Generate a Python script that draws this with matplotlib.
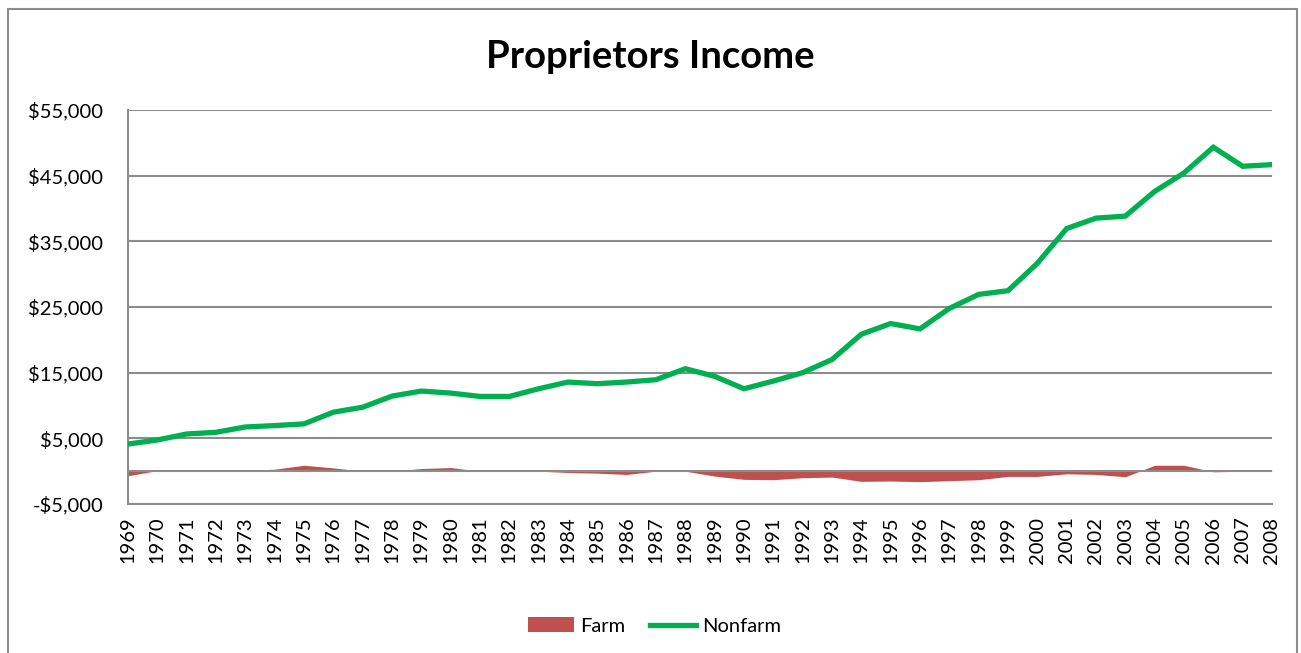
import matplotlib.pyplot as plt
from matplotlib.patches import Rectangle
from matplotlib.ticker import FuncFormatter

years = list(range(1969, 2009))
farm = [-700, 100, 0, 0, 100, 300, 900, 500, 0, 0,
        400, 550, 0, 0, 0, -200, -300, -500, 0, 0,
        -750, -1250, -1300, -1000, -900, -1550, -1500, -1600, -1450, -1300,
        -800, -800, -400, -500, -850, 900, 900, -100, 0, 50]
nonfarm = [4130, 4750, 5660, 5920, 6730, 6940, 7200, 8980, 9740, 11430,
           12200, 11890, 11380, 11380, 12550, 13570, 13320, 13570, 13930, 15600,
           14440, 12550, 13720, 15000, 17000, 20850, 22480, 21670, 24780, 26920,
           27480, 31650, 36950, 38530, 38840, 42600, 45410, 49330, 46430, 46680]
y_ticks = [-5000, 5000, 15000, 25000, 35000, 45000, 55000]

plt.rcParams['font.family'] = ['Lato', 'DejaVu Sans']

fig = plt.figure(figsize=(13.01, 6.53), dpi=100)
fig.patches.append(Rectangle((8 / 1301, -0.01), 1289 / 1301, 1 - 9 / 653 + 0.01,
                             transform=fig.transFigure, fill=False,
                             edgecolor='#8c8c8c', linewidth=1.5))

ax = fig.add_axes([128 / 1301, 1 - 504 / 653, 1144 / 1301, 394 / 653])
x = list(range(len(years)))

ax.fill_between(x, farm, 0, color='#C0504D', linewidth=0, label='Farm', zorder=2)
ax.axhline(0, color='#8c8c8c', linewidth=1.5, zorder=3)
ax.plot(x, nonfarm, color='#00B050', linewidth=3.8, label='Nonfarm', zorder=4,
        solid_joinstyle='miter')

ax.set_xlim(0, len(years) - 1)
ax.set_ylim(-5000, 55000)
ax.set_yticks(y_ticks)
ax.yaxis.set_major_formatter(FuncFormatter(
    lambda v, p: f"-${abs(v):,.0f}" if v < 0 else f"${v:,.0f}"))
ax.grid(axis='y', color='#8c8c8c', linewidth=1.5, zorder=1)
ax.set_axisbelow(True)

ax.set_xticks(x)
ax.set_xticklabels([str(y) for y in years], rotation=90, fontsize=14.5)
ax.tick_params(axis='y', labelsize=14.5, length=0, pad=18)
ax.tick_params(axis='x', length=0, pad=9)

for s in ['top', 'right']:
    ax.spines[s].set_visible(False)
for s in ['left', 'bottom']:
    ax.spines[s].set_color('#8c8c8c')
    ax.spines[s].set_linewidth(1.5)

fig.text(0.500, 1 - 57 / 653, 'Proprietors Income', ha='center', va='center',
         fontsize=27.5, fontweight='bold')

fig.legend(loc='center', bbox_to_anchor=(0.503, 1 - 626 / 653), ncol=2,
           frameon=False, fontsize=14.5, handlelength=2.3, handletextpad=0.3,
           columnspacing=1.2)

fig.savefig('out.png', dpi=100)
